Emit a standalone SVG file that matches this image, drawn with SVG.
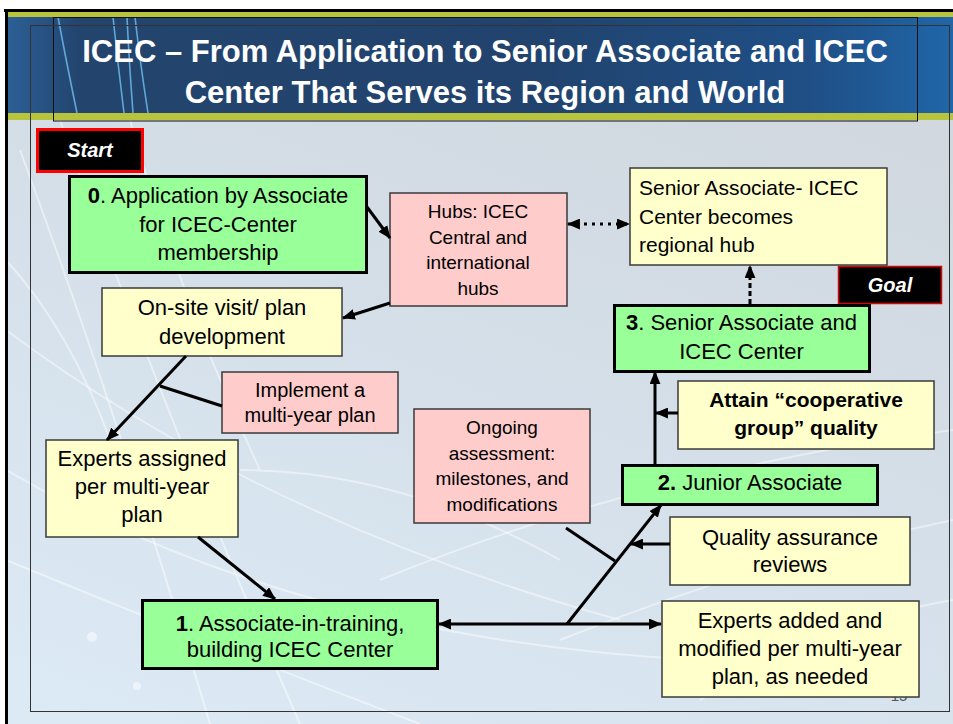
<svg xmlns="http://www.w3.org/2000/svg" width="953" height="724" viewBox="0 0 953 724">
  <defs>
    <linearGradient id="bodyBg" x1="0.6" y1="0" x2="0.1" y2="1">
      <stop offset="0" stop-color="#d1d8df"/>
      <stop offset="0.5" stop-color="#d5e0ea"/>
      <stop offset="1" stop-color="#dceaf5"/>
    </linearGradient>
    <linearGradient id="titleBg" x1="0" y1="0" x2="1" y2="0">
      <stop offset="0" stop-color="#2d6097"/>
      <stop offset="0.08" stop-color="#22446d"/>
      <stop offset="0.55" stop-color="#21436d"/>
      <stop offset="0.85" stop-color="#1f4f86"/>
      <stop offset="1" stop-color="#2066a8"/>
    </linearGradient>
    <marker id="arrow" viewBox="0 0 12 10" refX="11" refY="5" markerWidth="13" markerHeight="11" markerUnits="userSpaceOnUse" orient="auto-start-reverse">
      <path d="M0,0 L12,5 L0,10 Z" fill="#000"/>
    </marker>
    <style>
      text { font-family: "Liberation Sans", Arial, sans-serif; fill: #000; }
      .t22 { font-size: 22px; text-anchor: middle; }
      .t21 { font-size: 21px; }
      .t20 { font-size: 20px; text-anchor: middle; }
      .t19 { font-size: 19px; text-anchor: middle; }
      .title { font-size: 31px; font-weight: bold; fill: #fff; text-anchor: middle; }
      .tag { font-size: 20px; font-weight: bold; font-style: italic; fill: #fff; text-anchor: middle; }
      .b { font-weight: bold; }
      .green { fill: #99ff99; stroke: #000; stroke-width: 3; }
      .yellow { fill: #ffffcc; stroke: #3a3a3a; stroke-width: 1.5; }
      .pink { fill: #ffcccc; stroke: #3a3a3a; stroke-width: 1.5; }
      .link { stroke: #000; stroke-width: 3; fill: none; }
      .swirl { stroke: #ffffff; fill: none; stroke-width: 2; opacity: 0.45; }
      .swirlT { stroke: #6cb8ea; fill: none; stroke-width: 1.6; opacity: 0.85; }
    </style>
  </defs>

  <!-- page background -->
  <rect x="0" y="0" width="953" height="724" fill="#ffffff"/>
  <rect x="6" y="10" width="947" height="714" fill="url(#bodyBg)"/>

  <!-- soft light arcs in the backdrop -->
  <g id="backdrop">
    <path class="swirl" d="M20,150 Q120,420 210,724"/>
    <path class="swirl" d="M60,120 Q150,380 300,724"/>
    <path class="swirl" d="M130,120 Q180,300 260,470"/>
    <path class="swirl" d="M6,330 Q260,520 620,620"/>
    <path class="swirl" d="M6,470 Q300,640 700,660"/>
    <path class="swirl" d="M6,560 Q200,640 420,724"/>
    <path class="swirl" d="M380,580 Q650,470 953,430"/>
    <path class="swirl" d="M560,640 Q760,560 953,520"/>
    <path class="swirl" d="M700,700 Q830,620 953,600"/>
    <path class="swirl" d="M240,470 Q400,470 560,560"/>
    <path class="swirl" d="M6,260 Q70,330 110,440"/>
    <circle cx="92" cy="637" r="5" fill="#ffffff" opacity="0.5"/>
    <circle cx="137" cy="686" r="4" fill="#ffffff" opacity="0.5"/>
  </g>

  <!-- title banner -->
  <g id="title">
    <rect x="6" y="12" width="947" height="108" fill="#b8c43c"/>
    <rect x="6" y="17" width="947" height="96" fill="url(#titleBg)"/>
    <path class="swirlT" d="M58,17 Q66,60 77,113"/>
    <path class="swirlT" d="M113,17 Q118,65 124,113"/>
    <path class="swirlT" d="M127,17 Q129,60 133,113"/>
    <path class="swirlT" d="M135,17 Q140,62 148,113"/>
    <rect x="53.5" y="17.5" width="864" height="103.5" fill="none" stroke="#111" stroke-width="1"/>
    <text class="title" x="485" y="62">ICEC – From Application to Senior Associate and ICEC</text>
    <text class="title" x="485" y="103">Center That Serves its Region and World</text>
  </g>

  <!-- slide frame lines -->
  <rect x="30.5" y="25.5" width="919" height="686" fill="none" stroke="#333" stroke-width="1"/>
  <line x1="4" y1="10.5" x2="953" y2="10.5" stroke="#000" stroke-width="3"/>
  <line x1="6.5" y1="9" x2="6.5" y2="724" stroke="#000" stroke-width="3"/>

  <!-- slide number, partly covered by the box above it -->
  <text x="899" y="701" font-size="15" fill="#555" text-anchor="middle" style="fill:#555">15</text>

  <g id="start">
    <rect x="37.5" y="129.5" width="105" height="42" fill="#000" stroke="#ff0000" stroke-width="3"/>
    <text class="tag" x="90" y="157">Start</text>
  </g>

  <g id="goal">
    <rect x="838.5" y="266.5" width="103" height="37" fill="#000" stroke="#e00000" stroke-width="1.5"/>
    <text class="tag" x="890" y="292">Goal</text>
  </g>

  <g id="step0">
    <rect class="green" x="69.5" y="176.5" width="297" height="96"/>
    <text class="t22" x="218" y="203"><tspan class="b">0</tspan>. Application by Associate</text>
    <text class="t22" x="218" y="231.5">for ICEC-Center</text>
    <text class="t22" x="218" y="260">membership</text>
  </g>

  <g id="hubs">
    <rect class="pink" x="390" y="193" width="177" height="113"/>
    <text class="t19" x="478" y="218">Hubs: ICEC</text>
    <text class="t19" x="478" y="243.5">Central and</text>
    <text class="t19" x="478" y="269">international</text>
    <text class="t19" x="478" y="294.5">hubs</text>
  </g>

  <g id="regional-hub">
    <rect class="yellow" x="630" y="168" width="257" height="97"/>
    <text class="t21" x="639" y="195">Senior Associate- ICEC</text>
    <text class="t21" x="639" y="223.5">Center becomes</text>
    <text class="t21" x="639" y="252">regional hub</text>
  </g>

  <g id="site-visit">
    <rect class="yellow" x="102" y="288" width="240" height="68"/>
    <text class="t22" x="222" y="315">On-site visit/ plan</text>
    <text class="t22" x="222" y="343.5">development</text>
  </g>

  <g id="step3">
    <rect class="green" x="614.5" y="305.5" width="255" height="66"/>
    <text class="t22" x="741.5" y="330"><tspan class="b">3</tspan>. Senior Associate and</text>
    <text class="t22" x="741.5" y="358.5">ICEC Center</text>
  </g>

  <g id="implement">
    <rect class="pink" x="222" y="372" width="176" height="61"/>
    <text class="t20" x="310" y="396.5">Implement a</text>
    <text class="t20" x="310" y="421.5">multi-year plan</text>
  </g>

  <g id="cooperative">
    <rect class="yellow" x="678" y="381" width="256" height="68"/>
    <text class="t22 b" x="806" y="407" style="font-size:21px">Attain “cooperative</text>
    <text class="t22 b" x="806" y="435" style="font-size:21px">group” quality</text>
  </g>

  <g id="ongoing">
    <rect class="pink" x="414" y="409" width="176" height="114"/>
    <text class="t19" x="502" y="433.5">Ongoing</text>
    <text class="t19" x="502" y="459.5">assessment:</text>
    <text class="t19" x="502" y="485">milestones, and</text>
    <text class="t19" x="502" y="510.5">modifications</text>
  </g>

  <g id="experts-assigned">
    <rect class="yellow" x="46" y="440" width="192" height="97"/>
    <text class="t22" x="142" y="466">Experts assigned</text>
    <text class="t22" x="142" y="494">per multi-year</text>
    <text class="t22" x="142" y="522">plan</text>
  </g>

  <g id="step2">
    <rect class="green" x="622.5" y="465.5" width="255" height="39"/>
    <text class="t22" x="750" y="490"><tspan class="b">2.</tspan> Junior Associate</text>
  </g>

  <g id="quality">
    <rect class="yellow" x="670" y="517" width="240" height="68"/>
    <text class="t22" x="790" y="545">Quality assurance</text>
    <text class="t22" x="790" y="572">reviews</text>
  </g>

  <g id="step1">
    <rect class="green" x="142.5" y="600.5" width="295" height="68"/>
    <text class="t22" x="290" y="631"><tspan class="b">1</tspan>. Associate-in-training,</text>
    <text class="t22" x="290" y="657">building ICEC Center</text>
  </g>

  <g id="experts-added">
    <rect class="yellow" x="662" y="601" width="257" height="96"/>
    <text class="t22" x="790" y="628">Experts added and</text>
    <text class="t22" x="790" y="656">modified per multi-year</text>
    <text class="t22" x="790" y="684">plan, as needed</text>
  </g>

  <g id="connectors">
    <line class="link" x1="367" y1="207" x2="390" y2="238" marker-end="url(#arrow)"/>
    <line class="link" x1="390" y1="303" x2="343" y2="318" marker-end="url(#arrow)"/>
    <line class="link" x1="568" y1="224" x2="629" y2="224" stroke-dasharray="3 5" marker-start="url(#arrow)" marker-end="url(#arrow)"/>
    <line class="link" x1="750" y1="304" x2="750" y2="266" stroke-dasharray="5 3" marker-end="url(#arrow)"/>
    <line class="link" x1="186" y1="356" x2="107" y2="440" marker-end="url(#arrow)"/>
    <line class="link" x1="160" y1="386" x2="222" y2="406"/>
    <line class="link" x1="198" y1="537" x2="275" y2="599" marker-end="url(#arrow)"/>
    <line class="link" x1="439" y1="624" x2="661" y2="624" marker-start="url(#arrow)" marker-end="url(#arrow)"/>
    <line class="link" x1="567" y1="624" x2="661" y2="505" marker-end="url(#arrow)"/>
    <line class="link" x1="566" y1="528" x2="615" y2="561"/>
    <line class="link" x1="670" y1="544" x2="631" y2="544" marker-end="url(#arrow)"/>
    <line class="link" x1="655" y1="464" x2="655" y2="372" marker-end="url(#arrow)"/>
    <line class="link" x1="678" y1="413" x2="656" y2="413" marker-end="url(#arrow)"/>
  </g>
</svg>
